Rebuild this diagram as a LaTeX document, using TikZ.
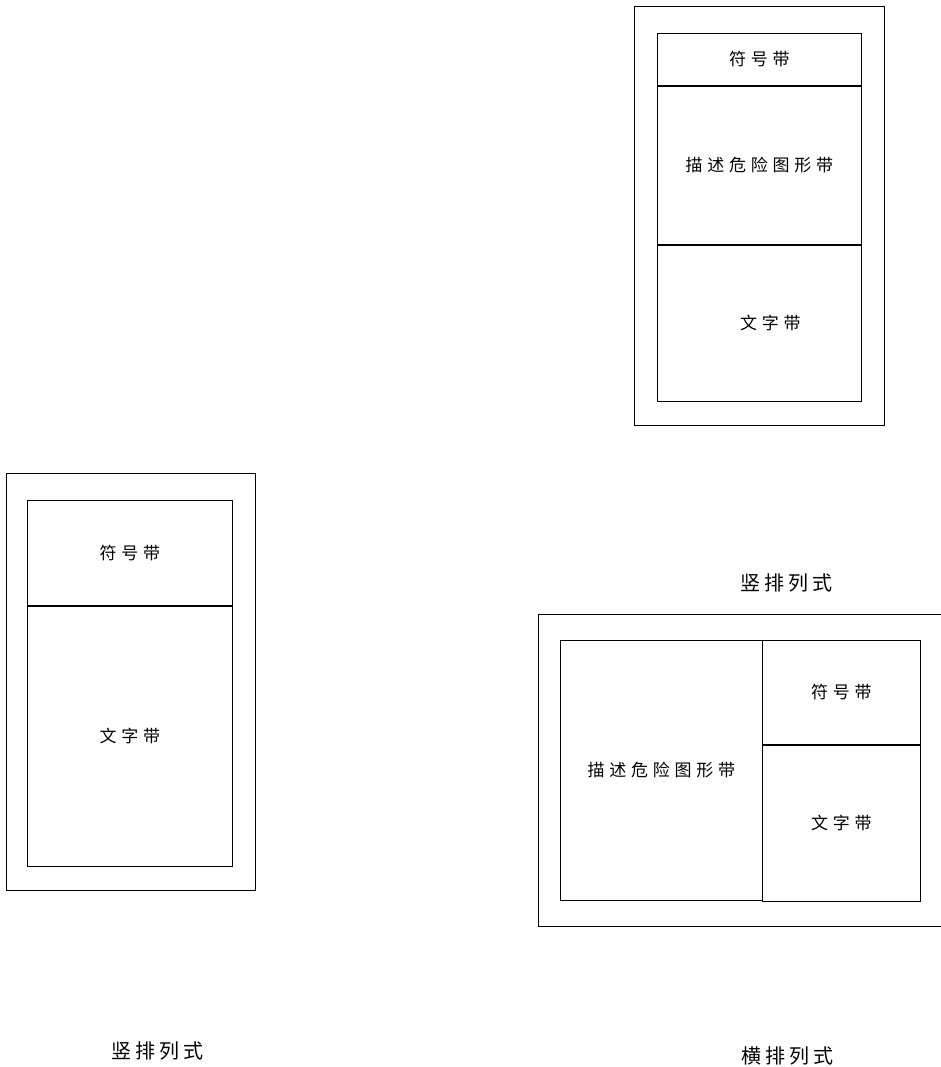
\documentclass[tikz,border=0pt]{standalone}
\usepackage{fontspec}
\setmainfont{Noto Sans CJK SC}
\newfontfamily\bandfont[LetterSpace=28]{Noto Sans CJK SC}
\newfontfamily\capfont[LetterSpace=20]{Noto Sans CJK SC}
\usetikzlibrary{positioning}
\tikzset{
    framesty/.style={draw,rectangle,line width=1.2pt,inner sep=0pt,anchor=north west},
    bandsty/.style={draw,rectangle,line width=0.9pt,inner sep=0pt,anchor=north west},
    labelsty/.style={font=\bandfont\fontsize{17}{17}\selectfont,inner sep=0pt,anchor=center},
    capsty/.style={font=\capfont\fontsize{20}{20}\selectfont,inner sep=0pt,anchor=center},
}

\begin{document}
\begin{tikzpicture}[x=1pt,y=-1pt]
\useasboundingbox (0,0) rectangle (941,1067);

\node (Vr) [framesty, minimum width=250, minimum height=419] at (634,6) {};
\node (Vrsym) [bandsty, minimum width=204, minimum height=52] at (657,33) {};
\node (Vrgra) [bandsty, minimum width=204, minimum height=158, below=0pt of Vrsym] {};
\node (Vrtxt) [bandsty, minimum width=204, minimum height=156, below=0pt of Vrgra] {};
\node (Vrsyml) [labelsty] at (Vrsym.center) {符号带};
\node (Vrgral) [labelsty] at (Vrgra.center) {描述危险图形带};
\node (Vrtxtl) [labelsty] at ([xshift=11pt]Vrtxt.center) {文字带};
\node (Vrcap) [capsty] at (786,583) {竖排列式};

\node (Vl) [framesty, minimum width=249, minimum height=417] at (6,473) {};
\node (Vlsym) [bandsty, minimum width=205, minimum height=105] at (27,500) {};
\node (Vltxt) [bandsty, minimum width=205, minimum height=260, below=0pt of Vlsym] {};
\node (Vlsyml) [labelsty] at (Vlsym.center) {符号带};
\node (Vltxtl) [labelsty] at (Vltxt.center) {文字带};
\node (Vlcap) [capsty] at (157,1051) {竖排列式};

\node (Hr) [framesty, minimum width=408, minimum height=312] at (538,614) {};
\node (Hrgra) [bandsty, minimum width=202, minimum height=260] at (560,640) {};
\node (Hrsym) [bandsty, minimum width=158, minimum height=104] at (762,640) {};
\node (Hrtxt) [bandsty, minimum width=158, minimum height=156, below=0pt of Hrsym] {};
\node (Hrgral) [labelsty] at (Hrgra.center) {描述危险图形带};
\node (Hrsyml) [labelsty] at (Hrsym.center) {符号带};
\node (Hrtxtl) [labelsty] at (Hrtxt.center) {文字带};
\node (Hrcap) [capsty] at (787,1056) {横排列式};

\end{tikzpicture}
\end{document}
